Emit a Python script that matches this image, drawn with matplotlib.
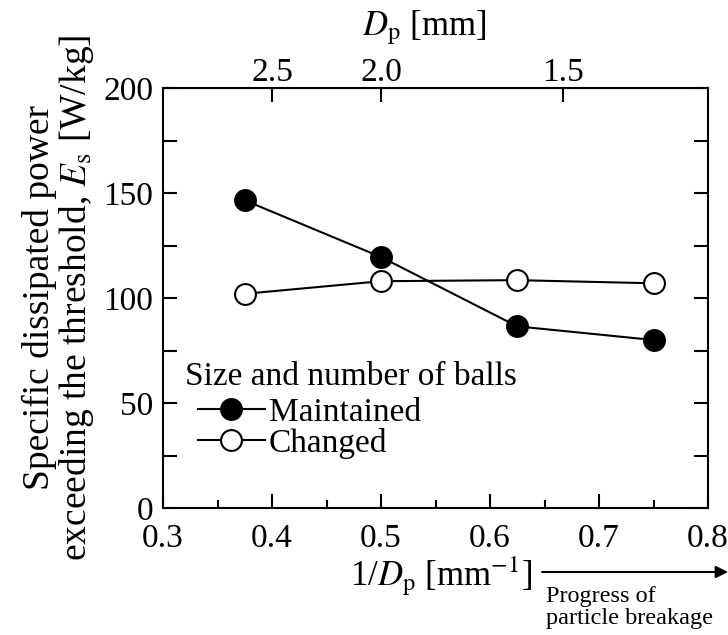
import matplotlib
matplotlib.use("Agg")
import matplotlib.pyplot as plt
from matplotlib.ticker import MultipleLocator

plt.rcParams['font.family'] = ['Liberation Serif', 'DejaVu Serif']
plt.rcParams['mathtext.fontset'] = 'stix'

# Inverse particle size [1/mm] and specific dissipated power [W/kg]
inv_dp = [0.375, 0.5, 0.625, 0.75]
es_maintained = [146.5, 119.5, 86.5, 80.0]
es_changed = [102.0, 108.0, 108.5, 107.0]

top_dp_ticks = [2.5, 2.0, 1.5]

FS = 24

fig = plt.figure(figsize=(7.28, 6.35), dpi=100)
ax = fig.add_axes([163/728, 1 - 508/635, 545/728, 420/635])

ax.plot(inv_dp, es_maintained, '-o', color='black', mfc='black', mec='black',
        ms=15, lw=1.5, mew=1.5, label='Maintained')
ax.plot(inv_dp, es_changed, '-o', color='black', mfc='white', mec='black',
        ms=15, lw=1.5, mew=1.5, label='Changed')

ax.set_xlim(0.3, 0.8)
ax.set_ylim(0, 200)
ax.xaxis.set_major_locator(MultipleLocator(0.1))
ax.xaxis.set_minor_locator(MultipleLocator(0.05))
ax.yaxis.set_major_locator(MultipleLocator(50))
ax.yaxis.set_minor_locator(MultipleLocator(25))
ax.tick_params(which='both', direction='in', labelsize=FS, width=1.5,
               right=True, top=False)
ax.tick_params(which='major', length=10)
ax.tick_params(which='minor', length=6)
ax.tick_params(axis='y', which='minor', length=10)
ax.tick_params(axis='x', which='major', pad=11)
ax.tick_params(axis='y', which='major', pad=7)
for s in ax.spines.values():
    s.set_linewidth(1.5)

# Top axis in particle diameter
sec = ax.secondary_xaxis('top', functions=(lambda x: 1 / x, lambda d: 1 / d))
sec.set_xticks(top_dp_ticks)
sec.set_xticklabels([f"{v:.1f}" for v in top_dp_ticks])
sec.tick_params(direction='in', length=10, width=1.5, labelsize=FS, pad=0)
fig.text(424/728, 1 - 28/635, r'$D_\mathrm{p}$ [mm]', fontsize=25,
         ha='center', va='center')

ax.set_ylabel('Specific dissipated power\nexceeding the threshold, $E_\\mathrm{s}$ [W/kg]',
              fontsize=27, labelpad=5, linespacing=1.0)

fig.text(532/728, 1 - 576/635, r'1/$D_\mathrm{p}$ [mm$^{-1}$]', fontsize=25,
         ha='right', va='center')
ax.annotate('', xy=(728/728, 1 - 572/635), xytext=(542/728, 1 - 572/635),
            xycoords='figure fraction', textcoords='figure fraction',
            arrowprops=dict(arrowstyle='-|>', color='black', lw=1.5,
                            mutation_scale=18, shrinkA=0, shrinkB=0))
fig.text(546/728, 1 - 586/635, 'Progress of\nparticle breakage', fontsize=17.5,
         ha='left', va='top', linespacing=1.08)

# Legend: heading plus two indented entries
ax.text(0.04, 0.313, 'Size and number of balls', transform=ax.transAxes,
        fontsize=FS, ha='left', va='center')
leg = ax.legend(loc='lower left', bbox_to_anchor=(0.04, 0.085), frameon=False,
                fontsize=FS, handlelength=2.0, handletextpad=0.12,
                labelspacing=0.0, borderaxespad=0.0)

fig.savefig('out.png', dpi=100)
